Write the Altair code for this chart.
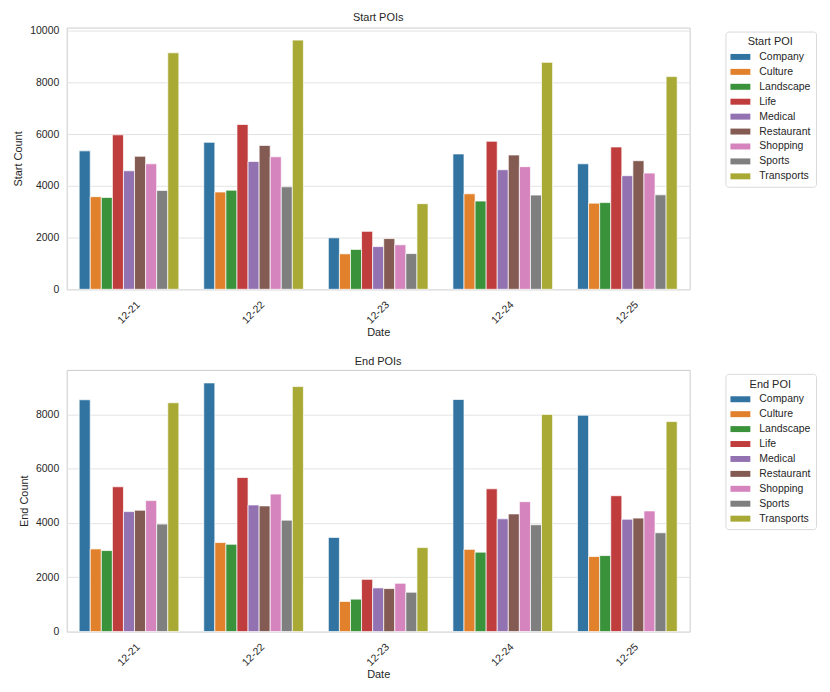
import altair as alt
import pandas as pd

dates = ["12-21", "12-22", "12-23", "12-24", "12-25"]
pois = ["Company", "Culture", "Landscape", "Life", "Medical",
        "Restaurant", "Shopping", "Sports", "Transports"]
colors = ["#3274a1", "#e1812c", "#3a923a", "#c03d3e", "#9372b2",
          "#845b53", "#d684bd", "#7f7f7f", "#a9aa35"]

# Start counts per POI, one value per date
start_company = [5350, 5680, 1990, 5230, 4850]
start_culture = [3580, 3760, 1370, 3690, 3330]
start_landscape = [3550, 3830, 1540, 3410, 3350]
start_life = [5970, 6370, 2240, 5720, 5500]
start_medical = [4580, 4940, 1650, 4620, 4390]
start_restaurant = [5140, 5560, 1960, 5190, 4970]
start_shopping = [4850, 5120, 1720, 4740, 4490]
start_sports = [3820, 3960, 1380, 3640, 3650]
start_transports = [9140, 9630, 3310, 8770, 8220]

# End counts per POI, one value per date
end_company = [8540, 9160, 3470, 8550, 7970]
end_culture = [3045, 3280, 1110, 3030, 2765]
end_landscape = [2985, 3215, 1195, 2925, 2800]
end_life = [5335, 5675, 1925, 5260, 5005]
end_medical = [4420, 4665, 1610, 4155, 4140]
end_restaurant = [4470, 4630, 1585, 4335, 4180]
end_shopping = [4825, 5065, 1780, 4785, 4445]
end_sports = [3960, 4105, 1450, 3935, 3640]
end_transports = [8430, 9025, 3095, 8000, 7735]

start_series = [start_company, start_culture, start_landscape, start_life,
                start_medical, start_restaurant, start_shopping, start_sports,
                start_transports]
end_series = [end_company, end_culture, end_landscape, end_life,
              end_medical, end_restaurant, end_shopping, end_sports,
              end_transports]

start_ticks = [0, 2000, 4000, 6000, 8000, 10000]
end_ticks = [0, 2000, 4000, 6000, 8000]


def to_df(series):
    rows = []
    for poi, vals in zip(pois, series):
        for d, v in zip(dates, vals):
            rows.append({"date": d, "poi": poi, "count": v})
    return pd.DataFrame(rows)


FONT = "Liberation Sans"
TXT = "#262626"
SYM = "M-1,-0.545H2.636V0.545H-1Z"


def panel(df, title, ytitle, legend_title, ymax, yvals):
    return alt.Chart(df, title=alt.TitleParams(
        title, fontSize=11, fontWeight="normal", font=FONT, color=TXT,
        anchor="middle", offset=3)).mark_bar(
        stroke="white", strokeWidth=0.7).encode(
        x=alt.X("date:N", sort=dates, title="Date",
                scale=alt.Scale(paddingInner=0.2, paddingOuter=0.1),
                axis=alt.Axis(labelAngle=-45, labelAlign="center",
                              labelBaseline="middle", labelPadding=23,
                              ticks=False, tickSize=0, grid=False,
                              domain=False, titlePadding=1)),
        xOffset=alt.XOffset("poi:N", sort=pois,
                            scale=alt.Scale(paddingInner=0, paddingOuter=0)),
        y=alt.Y("count:Q", title=ytitle,
                scale=alt.Scale(domain=[0, ymax], nice=False, zero=True),
                axis=alt.Axis(values=yvals, format="d", ticks=False,
                              tickSize=0, domain=False, labelPadding=8,
                              titlePadding=6, gridColor="#e3e3e3")),
        color=alt.Color("poi:N", sort=pois,
                        scale=alt.Scale(domain=pois, range=colors),
                        legend=alt.Legend(
                            title=legend_title, orient="none",
                            legendX=662, legendY=4,
                            strokeColor="#dadada", cornerRadius=3,
                            fillColor="white", padding=5,
                            symbolType=SYM, symbolSize=121,
                            symbolStrokeWidth=0, labelOffset=18,
                            rowPadding=4, titleAnchor="middle",
                            titleFontSize=11, titleFontWeight="normal",
                            titlePadding=4, labelFontSize=10.5,
                            labelFont=FONT, titleFont=FONT,
                            labelColor=TXT, titleColor=TXT)),
    ).properties(width=626, height=263)


top = panel(to_df(start_series), "Start POIs", "Start Count", "Start POI",
            10115, start_ticks)
bottom = panel(to_df(end_series), "End POIs", "End Count", "End POI",
               9640, end_ticks)

chart = alt.vconcat(top, bottom, spacing=17).resolve_scale(
    y="independent").resolve_legend(color="independent").properties(
    padding={"left": 4, "top": 1, "right": 5, "bottom": 5}
).configure_view(stroke="#cccccc", strokeWidth=1).configure_axis(
    labelFont=FONT, titleFont=FONT, labelFontSize=10.5, titleFontSize=11,
    titleFontWeight="normal", labelColor=TXT, titleColor=TXT
)

chart.save("out.html", embed_options={"renderer": "svg", "actions": False})
